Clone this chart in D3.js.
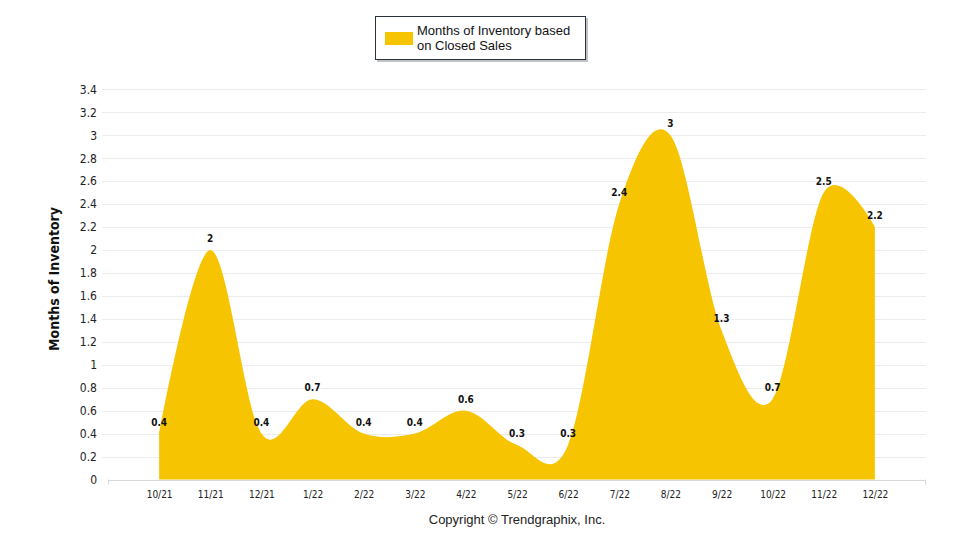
<!DOCTYPE html>
<html>
<head>
<meta charset="utf-8">
<script src="https://cdn.jsdelivr.net/npm/d3@7"></script>
<style>
  body { margin: 0; background: #fff; }
  svg { display: block; }
</style>
</head>
<body>
<div id="chart"></div>
<script>
'use strict';

var months = ['10/21', '11/21', '12/21', '1/22', '2/22', '3/22', '4/22', '5/22',
              '6/22', '7/22', '8/22', '9/22', '10/22', '11/22', '12/22'];
var inventory = [0.4, 2, 0.4, 0.7, 0.4, 0.4, 0.6, 0.3, 0.3, 2.4, 3, 1.3, 0.7, 2.5, 2.2];
var yTicks = [0, 0.2, 0.4, 0.6, 0.8, 1, 1.2, 1.4, 1.6, 1.8, 2, 2.2, 2.4, 2.6, 2.8, 3, 3.2, 3.4];

var width = 960,
    height = 550,
    plotLeft = 102, plotRight = 926,
    plotTop = 89.3, plotBottom = 479.5,
    fill = '#f6c400';

var svg = d3.select('#chart').append('svg')
  .attr('width', width)
  .attr('height', height);

var x = d3.scalePoint()
  .domain(months)
  .range([108, plotRight])
  .padding(1);

var y = d3.scaleLinear()
  .domain([0, 3.4])
  .range([plotBottom, plotTop]);

// grid
svg.append('g')
  .selectAll('line')
  .data(yTicks)
  .join('line')
    .attr('x1', function (d) { return d === 0 ? 108 : plotLeft; })
    .attr('x2', plotRight)
    .attr('y1', function (d) { return Math.round(y(d)) + 0.5; })
    .attr('y2', function (d) { return Math.round(y(d)) + 0.5; })
    .attr('stroke', function (d) { return d === 0 ? '#d8d8d8' : '#ececec'; })
    .attr('stroke-width', 1);

// y axis labels
var yAxis = d3.axisLeft(y)
  .tickValues(yTicks)
  .tickSize(0)
  .tickPadding(0)
  .tickFormat(d3.format('~g'));

svg.append('g')
  .attr('transform', 'translate(97,0)')
  .call(yAxis)
  .call(function (g) { g.select('.domain').remove(); })
  .selectAll('text')
    .attr('font-family', '"DejaVu Sans Condensed", "DejaVu Sans", sans-serif')
    .attr('font-size', 12)
    .attr('fill', '#222');

// area, spline through the monthly values
var area = d3.area()
  .x(function (d, i) { return x(months[i]); })
  .y0(y(0))
  .y1(function (d) { return y(d); })
  .curve(d3.curveCardinal.tension(0));

svg.append('path')
  .datum(inventory)
  .attr('d', area)
  .attr('fill', fill);

// x axis
var xAxis = d3.axisBottom(x)
  .tickSize(0)
  .tickPadding(11);

svg.append('g')
  .attr('transform', 'translate(0,' + plotBottom + ')')
  .call(xAxis)
  .call(function (g) {
    g.select('.domain').remove();
    g.selectAll('text')
      .attr('font-family', '"DejaVu Sans Condensed", "DejaVu Sans", sans-serif')
      .attr('font-size', 10)
      .attr('fill', '#222');
  });

svg.append('g')
  .selectAll('line')
  .data([108, plotRight - 1])
  .join('line')
    .attr('x1', function (d) { return d + 0.5; })
    .attr('x2', function (d) { return d + 0.5; })
    .attr('y1', plotBottom)
    .attr('y2', plotBottom + 5)
    .attr('stroke', '#d8d8d8');

// data labels
svg.append('g')
  .selectAll('text')
  .data(inventory)
  .join('text')
    .attr('x', function (d, i) { return x(months[i]); })
    .attr('y', function (d) { return y(d) - 8; })
    .attr('text-anchor', 'middle')
    .attr('font-family', '"DejaVu Sans Condensed", "DejaVu Sans", sans-serif')
    .attr('font-weight', 'bold')
    .attr('font-size', 10)
    .attr('fill', '#111')
    .text(function (d) { return d3.format('~g')(d); });

// y title
svg.append('text')
  .attr('transform', 'translate(59,279) rotate(-90)')
  .attr('text-anchor', 'middle')
  .attr('font-family', '"DejaVu Sans Condensed", "DejaVu Sans", sans-serif')
  .attr('font-weight', 'bold')
  .attr('font-size', 14)
  .attr('fill', '#111')
  .text('Months of Inventory');

// legend
var legend = svg.append('g');
legend.append('rect')
  .attr('x', 377).attr('y', 18)
  .attr('width', 211).attr('height', 44)
  .attr('fill', '#999').attr('opacity', 0.6);
legend.append('rect')
  .attr('x', 375.5).attr('y', 16.5)
  .attr('width', 210).attr('height', 43)
  .attr('fill', '#fff')
  .attr('stroke', '#2a3340');
legend.append('rect')
  .attr('x', 385).attr('y', 32)
  .attr('width', 28).attr('height', 13)
  .attr('fill', fill);
legend.append('text')
  .attr('font-family', '"Liberation Sans", Arial, sans-serif')
  .attr('font-size', 13)
  .attr('fill', '#111')
  .selectAll('tspan')
  .data(['Months of Inventory based', 'on Closed Sales'])
  .join('tspan')
    .attr('x', 417)
    .attr('y', function (d, i) { return 35 + i * 15; })
    .text(function (d) { return d; });

// footer
svg.append('text')
  .attr('x', 517)
  .attr('y', 524)
  .attr('text-anchor', 'middle')
  .attr('font-family', '"Liberation Sans", Arial, sans-serif')
  .attr('font-size', 13)
  .attr('fill', '#222')
  .text('Copyright \u00a9 Trendgraphix, Inc.');
</script>
</body>
</html>
